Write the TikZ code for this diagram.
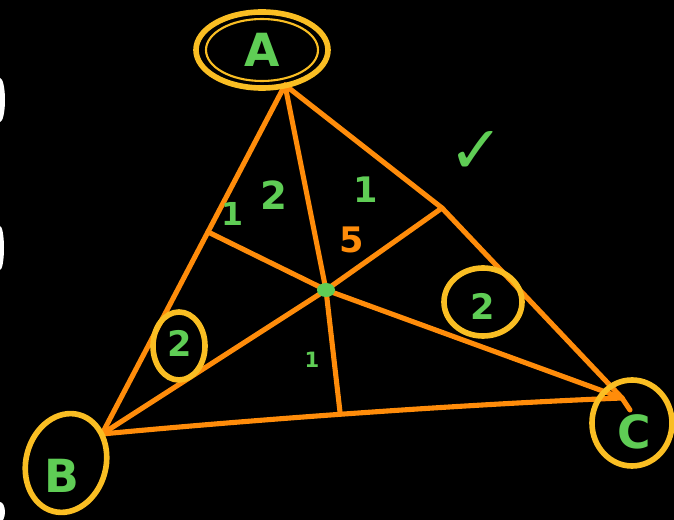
\documentclass[tikz,border=0pt]{standalone}
\usepackage{fontspec}
\setmainfont{DejaVu Sans}
\definecolor{penorange}{RGB}{255,140,10}
\definecolor{penyellow}{RGB}{250,190,35}
\definecolor{pengreen}{RGB}{95,205,85}
\tikzset{
  side/.style={penorange, line width=2.9pt, line cap=round, line join=round},
  ring/.style={penyellow, line width=3.2pt},
  mark/.style={text=pengreen, font=\fontsize{#1}{#1}\selectfont\bfseries},
  mark/.default=20,
}
\begin{document}
\begin{tikzpicture}[x=0.02cm, y=-0.02cm]
                    % Background
                    \fill[black] (0,0) rectangle (674,520);
                    \useasboundingbox (0,0) rectangle (674,520);
                    \fill[white] (0,100) ellipse (5 and 22);
                    \fill[white] (0,248) ellipse (4 and 22);
                    \fill[white] (0,512) ellipse (5 and 10);

                    % Vertices, centroid and feet
                    \coordinate (A) at (285,85);
                    \coordinate (B) at (102,434);
                    \coordinate (C) at (622,398);
                    \coordinate (G) at (326,290);
                    \coordinate (Fa) at (340,412);
                    \coordinate (Fb) at (442,208);
                    \coordinate (Fc) at (208,232);

                    % Triangle
                    \draw[side] (A) -- (B);
                    \draw[side] (A) -- (Fb) -- (C);
                    \draw[side] (B) .. controls (250,420) and (450,405) .. (C);
                    \draw[side] (C) -- (630,410);

                    % Medians through G
                    \draw[side] (A) -- (G) -- (Fa);
                    \draw[side] (B) -- (G) -- (Fb);
                    \draw[side] (C) -- (G) -- (Fc);
                    \fill[pengreen] (G) ellipse (9 and 7);

                    % Vertex labels in rings
                    \node[mark=26] (labA) at (262,50) {A};
                    \draw[ring] (labA) ellipse (66 and 38);
                    \draw[penyellow, line width=1.2pt] (labA) ellipse (56 and 31);
                    \node[mark=26] (labB) at (62,476) {B};
                    \draw[ring, rotate around={-15:(66,463)}] (66,463) ellipse (40 and 50);
                    \node[mark=26] (labC) at (634,432) {C};
                    \draw[ring] (632,423) ellipse (40 and 43);

                    % Ratio marks
                    \node[mark=20] (r1) at (483,306) {2};
                    \draw[ring] (483,302) ellipse (39 and 34);
                    \node[mark=20] (r2) at (180,343) {2};
                    \draw[ring] (179,346) ellipse (26 and 34);
                    \node[mark=18] (m1) at (233,214) {1};
                    \node[mark=22] (m2) at (274,195) {2};
                    \node[mark=20] (m3) at (366,190) {1};
                    \node[mark=20, text=penorange] (m4) at (352,240) {5};
                    \node[mark=12] (m5) at (312,360) {1};
                    \node[mark=38] (ok) at (476,152) {✓};
                \end{tikzpicture}
\end{document}
